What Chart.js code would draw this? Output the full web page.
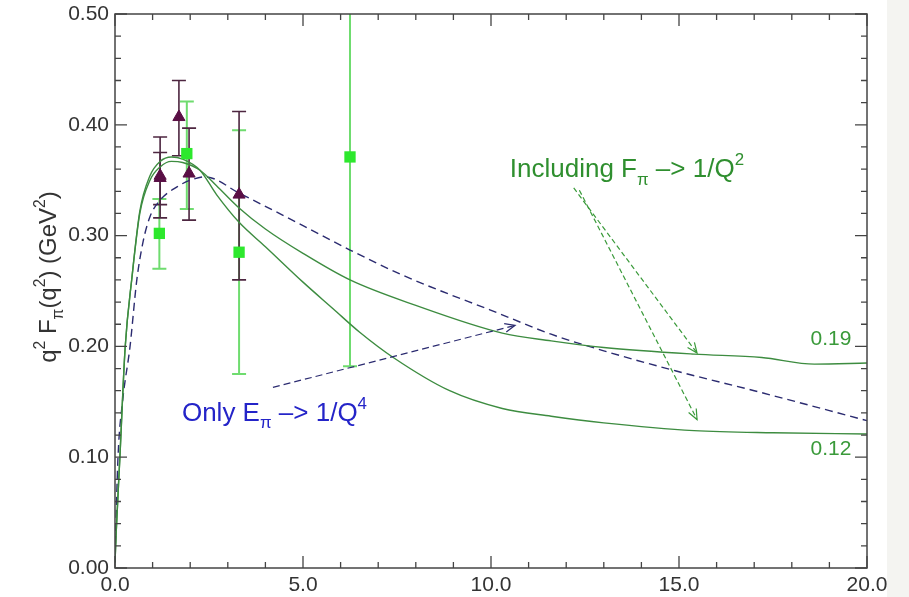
<!DOCTYPE html>
<html>
<head>
<meta charset="utf-8">
<script src="https://cdn.jsdelivr.net/npm/chart.js@4.4.0/dist/chart.umd.min.js"></script>
<style>
  html, body { margin: 0; padding: 0; background: #fff; }
  #wrap { width: 909px; height: 597px; }
</style>
</head>
<body>
<div id="wrap"><canvas id="grafica" width="909" height="597"></canvas></div>
<script>
// datos
const xTicks = [0, 5, 10, 15, 20];
const yTicks = [0, 0.1, 0.2, 0.3, 0.4, 0.5];

// curva con corte 0.19
const xCurva19 = [0, 0.03, 0.13, 0.27, 0.45, 0.66, 0.93, 1.2, 1.5, 1.8, 2.26, 2.7, 3.3, 4.0, 5.0, 6.25, 8.0, 10.3, 11.6, 13.0, 15.4, 17.2, 18.6, 20];
const yCurva19 = [0.005, 0.031, 0.1, 0.199, 0.262, 0.32, 0.35, 0.362, 0.367, 0.366, 0.359, 0.345, 0.325, 0.306, 0.284, 0.26, 0.237, 0.212, 0.205, 0.199, 0.193, 0.19, 0.184, 0.185];

// curva con corte 0.12
const xCurva12 = [0, 0.03, 0.13, 0.27, 0.45, 0.66, 0.93, 1.2, 1.5, 1.8, 2.26, 2.7, 3.3, 4.0, 5.0, 5.8, 6.5, 7.4, 8.9, 10.3, 11.6, 13.0, 15.4, 17.5, 20];
const yCurva12 = [0.005, 0.031, 0.1, 0.199, 0.262, 0.322, 0.354, 0.367, 0.371, 0.369, 0.359, 0.337, 0.312, 0.29, 0.258, 0.234, 0.213, 0.19, 0.16, 0.144, 0.137, 0.131, 0.124, 0.122, 0.121];

// curva discontinua (solo E_pi -> 1/Q^4)
const xDiscontinua = [0, 0.08, 0.2, 0.4, 0.58, 0.75, 0.93, 1.2, 1.65, 2.0, 2.4, 3.32, 5.0, 6.25, 7.6, 8.67, 9.97, 11.6, 13.0, 14.9, 17.0, 20];
const yDiscontinua = [0.01, 0.1, 0.15, 0.2, 0.26, 0.295, 0.317, 0.332, 0.344, 0.35, 0.353, 0.338, 0.309, 0.287, 0.265, 0.25, 0.233, 0.211, 0.196, 0.178, 0.16, 0.133];

// puntos verdes (cuadrados) con barras de error
const xCuadros = [1.18, 1.91, 3.3, 6.25];
const yCuadros = [0.302, 0.374, 0.285, 0.371];
const bajoCuadros = [0.27, 0.324, 0.175, 0.182];
const altoCuadros = [0.333, 0.421, 0.395, 0.56];

// puntos morados (triangulos) con barras de error
const xTriangulos = [1.2, 1.2, 1.7, 1.97, 3.3];
const yTriangulos = [0.354, 0.352, 0.407, 0.356, 0.337];
const bajoTriangulos = [0.316, 0.328, 0.372, 0.314, 0.26];
const altoTriangulos = [0.389, 0.375, 0.44, 0.397, 0.412];

const FUENTE = "'Liberation Sans', Arial, sans-serif";

function pares(xs, ys) {
  return xs.map((x, i) => ({ x: x, y: ys[i] }));
}

// texto con subindices / superindices
function anchoRico(ctx, partes, size) {
  let w = 0;
  partes.forEach(p => {
    const s = p[1] === 'n' ? size : size * 0.65;
    ctx.font = s + 'px ' + FUENTE;
    w += ctx.measureText(p[0]).width;
  });
  return w;
}
function textoRico(ctx, partes, x, y, size, color) {
  ctx.fillStyle = color;
  ctx.textBaseline = 'alphabetic';
  ctx.textAlign = 'left';
  partes.forEach(p => {
    let s = size, dy = 0;
    if (p[1] === 'sub') { s = size * 0.65; dy = size * 0.3; }
    if (p[1] === 'sup') { s = size * 0.65; dy = -size * 0.45; }
    ctx.font = s + 'px ' + FUENTE;
    ctx.fillText(p[0], x, y + dy);
    x += ctx.measureText(p[0]).width;
  });
}

function flecha(ctx, x1, y1, x2, y2, color, dash) {
  ctx.save();
  ctx.strokeStyle = color;
  ctx.lineWidth = 1.2;
  ctx.setLineDash(dash);
  ctx.beginPath();
  ctx.moveTo(x1, y1);
  ctx.lineTo(x2, y2);
  ctx.stroke();
  ctx.setLineDash([]);
  const ang = Math.atan2(y2 - y1, x2 - x1);
  const L = 11;
  ctx.beginPath();
  ctx.moveTo(x2 - L * Math.cos(ang - 0.4), y2 - L * Math.sin(ang - 0.4));
  ctx.lineTo(x2, y2);
  ctx.lineTo(x2 - L * Math.cos(ang + 0.4), y2 - L * Math.sin(ang + 0.4));
  ctx.stroke();
  ctx.restore();
}

// anotaciones en coordenadas de datos
const flechas = [
  { desde: [4.2, 0.163], hasta: [10.64, 0.219], color: '#2b2b70', dash: [7, 4] },
  { desde: [12.2, 0.343], hasta: [15.48, 0.194], color: '#3a9a3a', dash: [5, 3] },
  { desde: [12.35, 0.341], hasta: [15.48, 0.134], color: '#3a9a3a', dash: [5, 3] }
];
const textos = [
  { pos: [10.5, 0.353], size: 26, color: '#2f8f2f',
    partes: [['Including F', 'n'], ['\u03c0', 'sub'], [' \u2013> 1/Q', 'n'], ['2', 'sup']] },
  { pos: [1.78, 0.133], size: 26, color: '#2424c8',
    partes: [['Only E', 'n'], ['\u03c0', 'sub'], [' \u2013> 1/Q', 'n'], ['4', 'sup']] },
  { pos: [18.5, 0.201], size: 21, color: '#3a9a3a', partes: [['0.19', 'n']] },
  { pos: [18.5, 0.102], size: 21, color: '#3a9a3a', partes: [['0.12', 'n']] }
];

// barras de error, antes de los puntos
const barrasError = {
  id: 'barrasError',
  beforeDatasetsDraw(chart) {
    const ctx = chart.ctx;
    const sx = chart.scales.x, sy = chart.scales.y;
    const a = chart.chartArea;
    ctx.save();
    ctx.beginPath();
    ctx.rect(a.left, a.top, a.right - a.left, a.bottom - a.top);
    ctx.clip();
    const grupos = [
      { xs: xCuadros, lo: bajoCuadros, hi: altoCuadros, color: '#6fdc6f', w: 2 },
      { xs: xTriangulos, lo: bajoTriangulos, hi: altoTriangulos, color: '#4d2640', w: 1.6 }
    ];
    grupos.forEach(g => {
      ctx.strokeStyle = g.color;
      ctx.lineWidth = g.w;
      g.xs.forEach((x, i) => {
        const px = sx.getPixelForValue(x);
        const p1 = sy.getPixelForValue(g.lo[i]);
        const p2 = sy.getPixelForValue(g.hi[i]);
        ctx.beginPath();
        ctx.moveTo(px, p1); ctx.lineTo(px, p2);
        ctx.moveTo(px - 7, p1); ctx.lineTo(px + 7, p1);
        ctx.moveTo(px - 7, p2); ctx.lineTo(px + 7, p2);
        ctx.stroke();
      });
    });
    ctx.restore();
  }
};

// marco con marcas hacia dentro (estilo IDL) y anotaciones
const marco = {
  id: 'marco',
  beforeDraw(chart) {
    const ctx = chart.ctx;
    ctx.save();
    ctx.fillStyle = '#ffffff';
    ctx.fillRect(0, 0, chart.width, chart.height);
    ctx.fillStyle = '#f4f4f1';
    ctx.fillRect(887, 0, chart.width - 887, chart.height);
    ctx.restore();
  },
  afterDraw(chart) {
    const ctx = chart.ctx;
    const sx = chart.scales.x, sy = chart.scales.y;
    const a = chart.chartArea;
    ctx.save();
    ctx.strokeStyle = '#444';
    ctx.lineWidth = 1.5;
    ctx.strokeRect(a.left, a.top, a.right - a.left, a.bottom - a.top);
    ctx.lineWidth = 1.3;
    ctx.beginPath();
    for (let v = 0; v <= 20; v += 1) {
      const px = sx.getPixelForValue(v);
      const L = v % 5 === 0 ? 12 : 6;
      ctx.moveTo(px, a.bottom); ctx.lineTo(px, a.bottom - L);
      ctx.moveTo(px, a.top); ctx.lineTo(px, a.top + L);
    }
    for (let k = 0; k <= 25; k++) {
      const py = sy.getPixelForValue(k * 0.02);
      const L = k % 5 === 0 ? 12 : 6;
      ctx.moveTo(a.left, py); ctx.lineTo(a.left + L, py);
      ctx.moveTo(a.right, py); ctx.lineTo(a.right - L, py);
    }
    ctx.stroke();

    flechas.forEach(f => {
      flecha(ctx, sx.getPixelForValue(f.desde[0]), sy.getPixelForValue(f.desde[1]),
        sx.getPixelForValue(f.hasta[0]), sy.getPixelForValue(f.hasta[1]), f.color, f.dash);
    });
    textos.forEach(t => {
      textoRico(ctx, t.partes, sx.getPixelForValue(t.pos[0]), sy.getPixelForValue(t.pos[1]), t.size, t.color);
    });

    // titulo del eje y
    const titulo = [['q', 'n'], ['2', 'sup'], [' F', 'n'], ['\u03c0', 'sub'], ['(q', 'n'], ['2', 'sup'], [') (GeV', 'n'], ['2', 'sup'], [')', 'n']];
    const tam = 24;
    const w = anchoRico(ctx, titulo, tam);
    ctx.translate(56, 277);
    ctx.rotate(-Math.PI / 2);
    textoRico(ctx, titulo, -w / 2, 0, tam, '#333');
    ctx.restore();
  }
};

const ctx = document.getElementById('grafica');
const grafica = new Chart(ctx, {
  type: 'scatter',
  data: {
    datasets: [
      {
        label: 'Triangulos',
        data: pares(xTriangulos, yTriangulos),
        pointStyle: 'triangle',
        pointRadius: 7,
        backgroundColor: '#5a0f45',
        borderColor: '#5a0f45',
        borderWidth: 1
      },
      {
        label: 'Cuadros',
        data: pares(xCuadros, yCuadros),
        pointStyle: 'rect',
        pointRadius: 8,
        backgroundColor: '#2de82d',
        borderColor: '#2de82d',
        borderWidth: 0
      },
      {
        label: '0.19',
        data: pares(xCurva19, yCurva19),
        showLine: true,
        pointRadius: 0,
        borderColor: '#3d8c40',
        borderWidth: 1.4,
        cubicInterpolationMode: 'monotone'
      },
      {
        label: '0.12',
        data: pares(xCurva12, yCurva12),
        showLine: true,
        pointRadius: 0,
        borderColor: '#3d8c40',
        borderWidth: 1.4,
        cubicInterpolationMode: 'monotone'
      },
      {
        label: 'Solo E',
        data: pares(xDiscontinua, yDiscontinua),
        showLine: true,
        pointRadius: 0,
        borderColor: '#2b2b70',
        borderWidth: 1.4,
        borderDash: [8, 5],
        cubicInterpolationMode: 'monotone'
      }
    ]
  },
  options: {
    responsive: false,
    animation: false,
    devicePixelRatio: 1,
    layout: { padding: { top: 14, right: 42, left: 0, bottom: 0 } },
    plugins: { legend: { display: false }, tooltip: { enabled: false } },
    scales: {
      x: {
        type: 'linear',
        min: 0,
        max: 20,
        afterFit: (s) => { s.height = 29; },
        afterBuildTicks: (s) => { s.ticks = xTicks.map(v => ({ value: v })); },
        ticks: {
          callback: (v) => v.toFixed(1),
          font: { family: FUENTE, size: 21 },
          color: '#333',
          padding: -3,
          maxRotation: 0
        },
        grid: { display: false },
        border: { display: false }
      },
      y: {
        type: 'linear',
        min: 0,
        max: 0.5,
        afterFit: (s) => { s.width = 115; },
        afterBuildTicks: (s) => { s.ticks = yTicks.map(v => ({ value: v })); },
        ticks: {
          callback: (v) => v.toFixed(2),
          font: { family: FUENTE, size: 21 },
          color: '#333',
          padding: -2
        },
        grid: { display: false },
        border: { display: false }
      }
    }
  },
  plugins: [marco, barrasError]
});
</script>
</body>
</html>
